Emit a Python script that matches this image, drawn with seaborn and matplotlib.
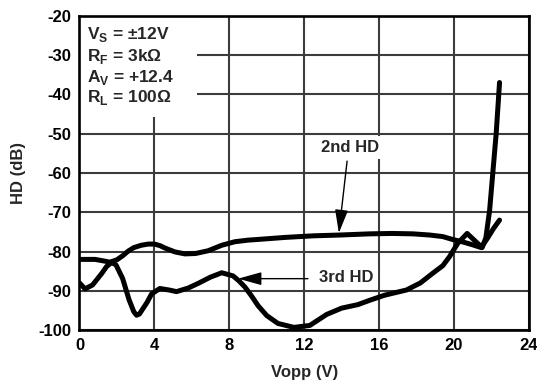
import matplotlib
matplotlib.use("Agg")
import matplotlib.pyplot as plt
from matplotlib.patches import Rectangle
import pandas as pd
import seaborn as sns

# Harmonic distortion vs output swing
hd2_vopp = [0.0, 0.4, 0.83, 1.3, 1.63, 2.0, 2.3, 2.6, 2.9, 3.3, 3.67, 4.0, 4.3,
            4.56, 5.1, 5.63, 6.2, 6.87, 7.6, 8.3, 9.0, 9.6, 11.0, 12.5, 13.9,
            15.5, 16.7, 17.8, 18.7, 19.4, 19.9, 20.5, 21.0, 21.45, 21.8, 22.1,
            22.43]
hd2_db = [-82.0, -82.0, -82.0, -82.4, -82.7, -82.1, -81.1, -79.9, -79.0, -78.4,
          -78.1, -78.1, -78.5, -79.1, -80.1, -80.6, -80.5, -79.8, -78.4, -77.5,
          -77.1, -76.9, -76.4, -76.0, -75.8, -75.5, -75.4, -75.5, -75.8, -76.2,
          -76.9, -77.6, -78.3, -79.0, -76.5, -74.2, -72.0]

hd3_vopp = [0.0, 0.3, 0.7, 1.2, 1.45, 1.72, 1.95, 2.3, 2.65, 2.9, 3.05, 3.2, 3.6,
            3.85, 4.29, 4.8, 5.18, 5.8, 6.34, 7.0, 7.6, 8.2, 8.5, 8.83, 9.2,
            9.54, 10.0, 10.6, 11.45, 12.3, 13.2, 14.0, 14.87, 15.5, 16.3, 17.45,
            18.2, 18.87, 19.4, 19.76, 20.2, 20.7, 21.1, 21.5, 21.7, 21.9, 22.07,
            22.25, 22.43]
hd3_db = [-88.0, -89.5, -88.5, -85.5, -83.8, -82.8, -83.4, -86.8, -92.3, -95.3,
          -96.2, -95.9, -93.0, -90.8, -89.4, -89.8, -90.2, -89.3, -88.1, -86.5,
          -85.4, -86.2, -87.4, -89.0, -91.4, -93.8, -96.3, -98.3, -99.3, -98.8,
          -96.0, -94.4, -93.5, -92.4, -91.1, -89.8, -88.0, -85.5, -83.6, -81.3,
          -77.9, -75.4, -77.2, -79.0, -76.5, -69.5, -60.0, -50.0, -37.0]

x_ticks = [0, 4, 8, 12, 16, 20, 24]
y_ticks = [-100, -90, -80, -70, -60, -50, -40, -30, -20]

conditions = [
    "V$_\\mathbf{S}$ = ±12V",
    "R$_\\mathbf{F}$ = 3k$\\mathrm{\\Omega}$",
    "A$_\\mathbf{V}$ = +12.4",
    "R$_\\mathbf{L}$ = 100$\\mathrm{\\Omega}$",
]

df = pd.concat([
    pd.DataFrame({"Vopp": hd2_vopp, "HD": hd2_db, "series": "2nd HD"}),
    pd.DataFrame({"Vopp": hd3_vopp, "HD": hd3_db, "series": "3rd HD"}),
])

sns.set_theme(style="white")
plt.rcParams["font.family"] = ["Liberation Sans", "DejaVu Sans"]
plt.rcParams["font.weight"] = "bold"
plt.rcParams["mathtext.fontset"] = "custom"
plt.rcParams["mathtext.rm"] = "Liberation Sans"
plt.rcParams["mathtext.bf"] = "Liberation Sans:bold"

fig = plt.figure(figsize=(5.37, 3.83), dpi=100)
ax = fig.add_axes([0.148, 0.138, 0.837, 0.821])

sns.lineplot(data=df, x="Vopp", y="HD", units="series", estimator=None,
             sort=False, color="black", linewidth=3.6, ax=ax, legend=False,
             zorder=3, solid_capstyle="round", solid_joinstyle="round")

ax.set_xlim(0, 24)
ax.set_ylim(-100, -20)
ax.set_xticks(x_ticks)
ax.set_yticks(y_ticks)
ax.set_xticklabels([str(t) for t in x_ticks], fontsize=12, fontweight="bold")
ax.set_yticklabels([str(t) for t in y_ticks], fontsize=12, fontweight="bold")
ax.tick_params(axis="x", length=0, pad=6, colors="black")
ax.tick_params(axis="y", length=0, pad=6, colors="black")
ax.set_axisbelow(True)
ax.grid(True, color="#3c3c3c", linewidth=1.5)
for sp in ax.spines.values():
    sp.set_color("black")
    sp.set_linewidth(1.9)
    sp.set_zorder(5)

ax.set_xlabel("Vopp (V)", fontsize=12, fontweight="bold", labelpad=8)
ax.set_ylabel("HD (dB)", fontsize=12, fontweight="bold", labelpad=9)

# white panel behind the operating conditions
ax.add_patch(Rectangle((0, 0.678), 0.261, 0.322, transform=ax.transAxes,
                       facecolor="white", edgecolor="none", zorder=1))
for s, yb in zip(conditions, [0.925, 0.856, 0.790, 0.726]):
    ax.text(0.017, yb, s, transform=ax.transAxes, fontsize=12.5,
            fontweight="bold", va="baseline", ha="left", zorder=6)

# series labels with leader arrows
box = dict(boxstyle="square,pad=0.25", facecolor="white", edgecolor="none")
ax.text(14.43, -53.6, "2nd HD", fontsize=12, fontweight="bold", ha="center",
        va="center", bbox=box, zorder=4)
ax.text(14.25, -86.6, "3rd HD", fontsize=12, fontweight="bold", ha="center",
        va="center", bbox=box, zorder=4)
arrow = dict(arrowstyle="-|>,head_length=0.72,head_width=0.2", color="black",
             lw=1.0, shrinkA=0, shrinkB=0, mutation_scale=20)
ax.annotate("", xy=(13.85, -75.3), xytext=(14.29, -57.0), arrowprops=arrow,
            zorder=4)
ax.annotate("", xy=(8.47, -86.9), xytext=(12.2, -86.9), arrowprops=arrow,
            zorder=4)

fig.savefig("out.png", dpi=100)
